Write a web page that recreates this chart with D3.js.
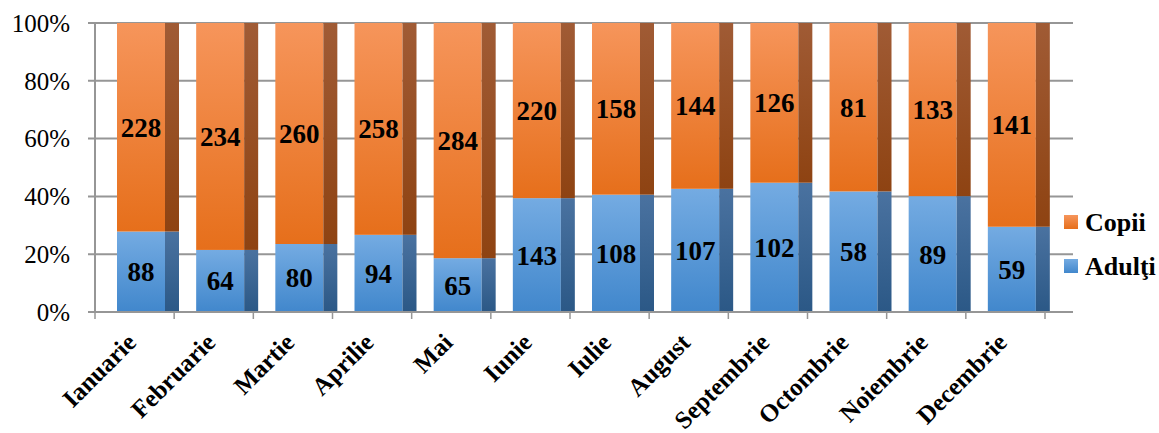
<!DOCTYPE html>
<html>
<head>
<meta charset="utf-8">
<script src="https://cdn.jsdelivr.net/npm/d3@7"></script>
<style>
  html, body { margin: 0; padding: 0; background: #fff; }
  svg { display: block; }
</style>
</head>
<body>
<svg id="chart" width="1159" height="433"></svg>
<script>
// Monthly counts, adults vs children, shown as 100% stacked columns
const months = ["Ianuarie", "Februarie", "Martie", "Aprilie", "Mai", "Iunie",
                "Iulie", "August", "Septembrie", "Octombrie", "Noiembrie", "Decembrie"];
const adulti = [88, 64, 80, 94, 65, 143, 108, 107, 102, 58, 89, 59];
const copii  = [228, 234, 260, 258, 284, 220, 158, 144, 126, 81, 133, 141];
const yTicks = [0, 0.2, 0.4, 0.6, 0.8, 1.0];
const seriesNames = ["Copii", "Adulţi"];

const FONT = "Liberation Serif";
const svg = d3.select("#chart");

const plot = { left: 95, right: 1045, top: 23, bottom: 312, gridEnd: 1073 };

const x = d3.scaleBand().domain(months).range([plot.left, plot.right]).padding(0);
const y = d3.scaleLinear().domain([0, 1]).range([plot.bottom, plot.top]);

// gradients
const defs = svg.append("defs");
function grad(id, top, bottom) {
  const g = defs.append("linearGradient").attr("id", id)
    .attr("x1", 0).attr("y1", 0).attr("x2", 0).attr("y2", 1);
  g.append("stop").attr("offset", "0%").attr("stop-color", top);
  g.append("stop").attr("offset", "100%").attr("stop-color", bottom);
}
grad("gOrange", "#f6955b", "#e66f1b");
grad("gOrangeSide", "#a05b35", "#8e4312");
grad("gBlue", "#74abe2", "#4187cc");
grad("gBlueSide", "#4a72a0", "#2b5886");

// horizontal gridlines
svg.append("g").selectAll("line").data(yTicks).join("line")
  .attr("x1", plot.left - 7).attr("x2", plot.gridEnd)
  .attr("y1", d => y(d)).attr("y2", d => y(d))
  .attr("stroke", "#969696").attr("stroke-width", 2);

// y tick labels
svg.append("g").selectAll("text").data(yTicks).join("text")
  .attr("x", 70).attr("y", d => y(d)).attr("dy", "0.35em")
  .attr("text-anchor", "end")
  .attr("font-family", FONT).attr("font-size", 25).attr("fill", "#000")
  .text(d => d3.format(".0%")(d));

// stacked data
const rows = months.map((m, i) => {
  const total = adulti[i] + copii[i];
  return { m, a: adulti[i], c: copii[i], pa: adulti[i] / total };
});

const frontOffset = 22, frontW = 48, sideW = 14;
const bars = svg.append("g");

rows.forEach(r => {
  const x0 = x(r.m) + frontOffset;
  // adults (bottom)
  bars.append("rect").attr("x", x0).attr("y", y(r.pa)).attr("width", frontW)
    .attr("height", y(0) - y(r.pa)).attr("fill", "url(#gBlue)");
  bars.append("rect").attr("x", x0 + frontW).attr("y", y(r.pa)).attr("width", sideW)
    .attr("height", y(0) - y(r.pa)).attr("fill", "url(#gBlueSide)");
  // children (top)
  bars.append("rect").attr("x", x0).attr("y", y(1)).attr("width", frontW)
    .attr("height", y(r.pa) - y(1)).attr("fill", "url(#gOrange)");
  bars.append("rect").attr("x", x0 + frontW).attr("y", y(1)).attr("width", sideW)
    .attr("height", y(r.pa) - y(1)).attr("fill", "url(#gOrangeSide)");
  // value labels
  const cx = x0 + frontW / 2;
  bars.append("text").attr("x", cx).attr("y", (y(r.pa) + y(0)) / 2).attr("dy", "0.35em")
    .attr("text-anchor", "middle").attr("font-family", FONT).attr("font-weight", "bold")
    .attr("font-size", 27).attr("fill", "#000").text(r.a);
  bars.append("text").attr("x", cx).attr("y", (y(r.pa) + y(1)) / 2).attr("dy", "0.35em")
    .attr("text-anchor", "middle").attr("font-family", FONT).attr("font-weight", "bold")
    .attr("font-size", 27).attr("fill", "#000").text(r.c);
});

// y axis line
svg.append("line").attr("x1", plot.left).attr("x2", plot.left)
  .attr("y1", plot.top).attr("y2", plot.bottom + 1)
  .attr("stroke", "#969696").attr("stroke-width", 2);

// x axis line and category ticks
svg.append("line").attr("x1", plot.left - 7).attr("x2", plot.gridEnd)
  .attr("y1", plot.bottom).attr("y2", plot.bottom)
  .attr("stroke", "#969696").attr("stroke-width", 2);
const bounds = months.map(m => x(m)).concat([plot.right]);
svg.append("g").selectAll("line").data(bounds).join("line")
  .attr("x1", d => d).attr("x2", d => d)
  .attr("y1", plot.bottom).attr("y2", plot.bottom + 7)
  .attr("stroke", "#969696").attr("stroke-width", 1.5);

// rotated month labels
svg.append("g").selectAll("text").data(months).join("text")
  .attr("transform", d => `translate(${x(d) + x.bandwidth() / 2 + 3},344) rotate(-45)`)
  .attr("text-anchor", "end")
  .attr("font-family", FONT).attr("font-weight", "bold").attr("font-size", 25)
  .attr("fill", "#000")
  .text(d => d);

// legend
const legend = svg.append("g");
const legendFills = ["url(#gOrange)", "url(#gBlue)"];
seriesNames.forEach((name, i) => {
  const ly = 215 + i * 44;
  legend.append("rect").attr("x", 1064).attr("y", ly).attr("width", 14).attr("height", 14)
    .attr("fill", legendFills[i]);
  legend.append("text").attr("x", 1085).attr("y", ly + 7).attr("dy", "0.35em")
    .attr("font-family", FONT).attr("font-weight", "bold").attr("font-size", 26)
    .attr("fill", "#000").text(name);
});
</script>
</body>
</html>
